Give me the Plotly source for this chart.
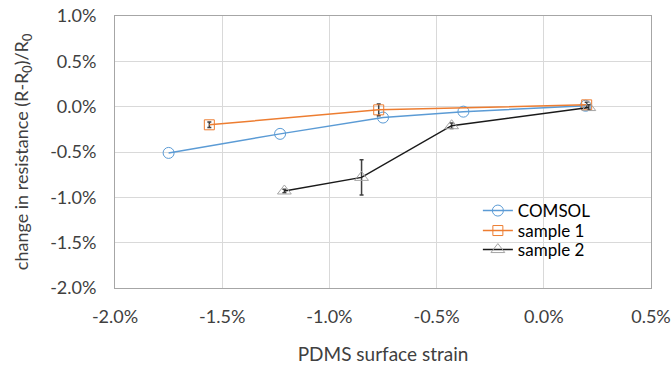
import plotly.graph_objects as go

# data (strain in %, resistance change in %)
comsol_x = [-1.75, -1.23, -0.75, -0.375, 0.195]
comsol_y = [-0.51, -0.30, -0.12, -0.055, 0.01]

s1_x = [-1.56, -0.77, 0.20]
s1_y = [-0.20, -0.035, 0.02]
s1_err = [0.03, 0.065, 0.03]

s2_x = [-1.21, -0.85, -0.43, 0.21]
s2_y = [-0.93, -0.78, -0.21, -0.01]
s2_err = [0.02, 0.195, 0.03, 0.03]

x_ticks = [-2.0, -1.5, -1.0, -0.5, 0.0, 0.5]
y_ticks = [1.0, 0.5, 0.0, -0.5, -1.0, -1.5, -2.0]

FONT = "Lato"
TXT = "#404040"
fig = go.Figure()

fig.add_trace(go.Scatter(
    x=comsol_x, y=comsol_y, mode="lines+markers", name="COMSOL", legend="legend",
    line=dict(color="#5B9BD5", width=1.5),
    marker=dict(symbol="circle-open", size=11, color="#5B9BD5", line=dict(width=1)),
))
fig.add_trace(go.Scatter(
    x=s1_x, y=s1_y, mode="lines+markers", name="sample 1", legend="legend2",
    line=dict(color="#ED7D31", width=1.5),
    marker=dict(symbol="square-open", size=10, color="#ED7D31", line=dict(width=1)),
    error_y=dict(type="data", array=s1_err, visible=True, color="#404040", thickness=1.5, width=2),
))
fig.add_trace(go.Scatter(
    x=s2_x, y=s2_y, mode="lines+markers", name="sample 2", legend="legend3",
    line=dict(color="#1a1a1a", width=1.5),
    marker=dict(symbol="triangle-up-open", size=12, color="#A5A5A5", line=dict(width=1)),
    error_y=dict(type="data", array=s2_err, visible=True, color="#404040", thickness=1.5, width=2),
))

axis_common = dict(
    showgrid=True, gridcolor="#D9D9D9", gridwidth=1,
    showline=True, linecolor="#A6A6A6", linewidth=1, mirror=True,
    zeroline=False, ticks="", automargin=False, ticklabeloverflow="allow",
    tickfont=dict(family=FONT, size=18, color=TXT),
)

fig.update_xaxes(
    range=[-2.0, 0.5], tickvals=x_ticks, ticktext=[f"{v:.1f}%" for v in x_ticks],
    ticklabelstandoff=12,
    title=dict(text="PDMS surface strain", font=dict(family=FONT, size=19, color=TXT), standoff=26),
    **axis_common,
)
fig.update_yaxes(
    range=[-2.0, 1.0], tickvals=y_ticks, ticktext=[f"{v:.1f}%" for v in y_ticks],
    ticklabelstandoff=14,
    title=dict(text="change in resistance (R-R<sub>0</sub>)/R<sub>0</sub>",
               font=dict(family=FONT, size=18, color=TXT), standoff=16),
    **axis_common,
)

leg_common = dict(x=0.677, xanchor="left", yanchor="middle", bgcolor="rgba(0,0,0,0)",
                  borderwidth=0, font=dict(family=FONT, size=17, color="#000000"),
                  itemwidth=30)

fig.update_layout(
    width=672, height=365,
    margin=dict(l=115, r=21, t=16, b=77),
    paper_bgcolor="white", plot_bgcolor="white",
    font=dict(family=FONT, size=15, color=TXT),
    legend=dict(y=0.283, **leg_common),
    legend2=dict(y=0.2096, **leg_common),
    legend3=dict(y=0.1397, **leg_common),
    showlegend=True,
)

fig.write_html("out.html", config={"displayModeBar": False},
               post_script="document.body.style.margin='0';")
